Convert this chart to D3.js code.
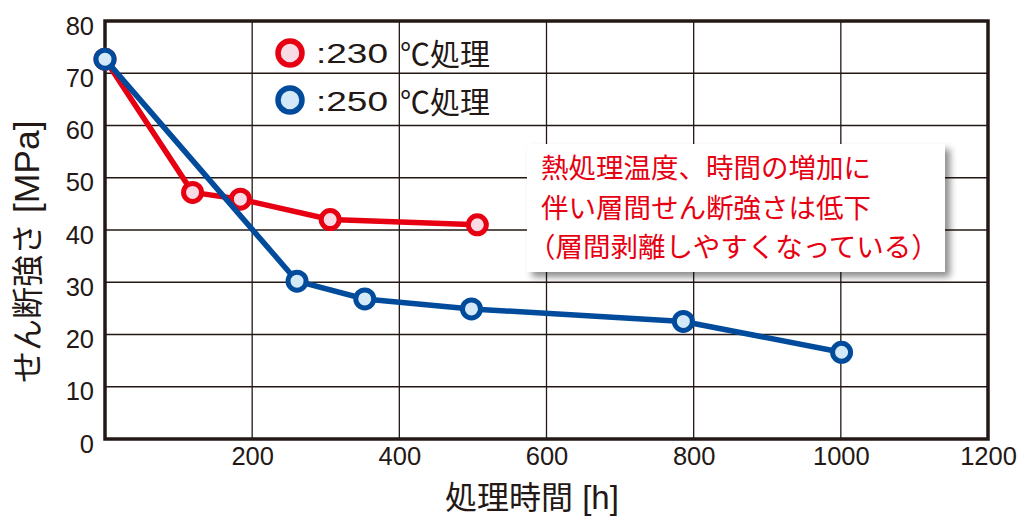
<!DOCTYPE html>
<html><head><meta charset="utf-8">
<script src="https://cdn.jsdelivr.net/npm/d3@7"></script>
<style>body{margin:0;background:#fff;} svg{display:block;}</style>
</head><body>
<svg id="c" width="1032" height="526"></svg>
<script>
const hours230 = [0, 119, 184, 306, 506];
const shear230 = [72.7, 47.2, 45.9, 42.0, 41.0];
const hours250 = [0, 261, 353, 498, 786, 1001];
const shear250 = [72.7, 30.2, 26.8, 24.9, 22.5, 16.6];
const xTicks = [200, 400, 600, 800, 1000, 1200];
const yTicks = [0, 10, 20, 30, 40, 50, 60, 70, 80];
const legendTemps = [":230", ":250"];
const legendUnit = "℃処理";
const noteLines = ["熱処理温度、時間の増加に", "伴い層間せん断強さは低下", "（層間剥離しやすくなっている）"];
const xTitle = ["処理時間", " [h]"];
const yTitle = ["せん断強さ", " [MPa]"];

const ink = "#231815";
const red = "#e60012", redFill = "#f9dbe6";
const blue = "#004b9b", blueFill = "#d4e9f7";
const fontLat = "'Liberation Sans', 'Noto Sans CJK JP', sans-serif";
const fontJP = "'Noto Sans CJK JP', 'Liberation Sans', sans-serif";

const svg = d3.select("#c");
const L = 105, R = 988, T = 21, B = 439;
const x = d3.scaleLinear().domain([0, 1200]).range([L, R]);
const y = d3.scaleLinear().domain([0, 80]).range([B, T]);

const defs = svg.append("defs");
const f = defs.append("filter").attr("id", "sh").attr("x", "-10%").attr("y", "-10%").attr("width", "130%").attr("height", "140%");
f.append("feDropShadow").attr("dx", 5).attr("dy", 5).attr("stdDeviation", 3.5).attr("flood-color", "#000").attr("flood-opacity", 0.45);

// grid
svg.append("g").selectAll("line").data(xTicks.filter(d => d < 1200)).join("line")
  .attr("x1", d => x(d)).attr("x2", d => x(d)).attr("y1", T).attr("y2", B)
  .attr("stroke", ink).attr("stroke-width", 1.3);
svg.append("g").selectAll("line").data(yTicks.filter(d => d > 0 && d < 80)).join("line")
  .attr("x1", L).attr("x2", R).attr("y1", d => y(d)).attr("y2", d => y(d))
  .attr("stroke", ink).attr("stroke-width", 1.3);

// axes labels
const ya = svg.append("g").attr("transform", `translate(${L},5)`)
  .call(d3.axisLeft(y).tickValues(yTicks).tickSize(0).tickPadding(11).tickFormat(d3.format("d")));
ya.select(".domain").remove();
ya.selectAll("text").attr("fill", ink).style("font-family", fontLat).style("font-size", "25.5px");
const xa = svg.append("g").attr("transform", `translate(0,${B})`)
  .call(d3.axisBottom(x).tickValues(xTicks).tickSize(0).tickPadding(8).tickFormat(d3.format("d")));
xa.select(".domain").remove();
xa.selectAll("text").attr("fill", ink).style("font-family", fontLat).style("font-size", "25.5px");

// frame
svg.append("rect").attr("x", L).attr("y", T).attr("width", R - L).attr("height", B - T)
  .attr("fill", "none").attr("stroke", ink).attr("stroke-width", 3.5);

// titles
const xt = svg.append("text").attr("x", 445).attr("y", 509).attr("fill", ink);
xt.append("tspan").style("font-family", fontJP).style("font-size", "32px").text(xTitle[0]);
xt.append("tspan").style("font-family", fontLat).style("font-size", "33px").text(xTitle[1]);
const yt = svg.append("text").attr("transform", "translate(39,383) rotate(-90)").attr("fill", ink);
yt.append("tspan").style("font-family", fontJP).style("font-size", "32px").text(yTitle[0]);
yt.append("tspan").style("font-family", fontLat).style("font-size", "35.5px").text(yTitle[1]);

// series
const series = [
  {xs: hours230, ys: shear230, stroke: red, fill: redFill},
  {xs: hours250, ys: shear250, stroke: blue, fill: blueFill}
];
const line = d3.line().x(d => x(d[0])).y(d => y(d[1]));
series.forEach(s => {
  const pts = s.xs.map((h, i) => [h, s.ys[i]]);
  const g = svg.append("g");
  g.append("path").attr("d", line(pts)).attr("fill", "none").attr("stroke", s.stroke)
    .attr("stroke-width", 5.5).attr("stroke-linejoin", "round");
  g.selectAll("circle").data(pts).join("circle")
    .attr("cx", d => x(d[0])).attr("cy", d => y(d[1])).attr("r", 9)
    .attr("fill", s.fill).attr("stroke", s.stroke).attr("stroke-width", 5);
});

// legend
const leg = [{c: red, f: redFill, cy: 53, by: 63}, {c: blue, f: blueFill, cy: 100, by: 111}];
leg.forEach((l, i) => {
  svg.append("circle").attr("cx", 290).attr("cy", l.cy).attr("r", 12)
    .attr("fill", l.f).attr("stroke", l.c).attr("stroke-width", 5.5);
  svg.append("text").attr("x", 316).attr("y", l.by).attr("fill", ink)
    .attr("textLength", 72).attr("lengthAdjust", "spacingAndGlyphs")
    .style("font-family", fontLat).style("font-size", "28px").text(legendTemps[i]);
  svg.append("text").attr("x", 400).attr("y", l.by + 2).attr("fill", ink)
    .style("font-family", fontJP).style("font-size", "30px").text(legendUnit);
});

// note box
svg.append("rect").attr("x", 527).attr("y", 144).attr("width", 418).attr("height", 128)
  .attr("fill", "#fff").attr("filter", "url(#sh)");
noteLines.forEach((t, i) => {
  svg.append("text").attr("x", i === 2 ? 528 : 541).attr("y", 178 + i * 39.5).attr("fill", red)
    .style("font-family", fontJP).style("font-size", "27.5px").text(t);
});
</script>
</body></html>
